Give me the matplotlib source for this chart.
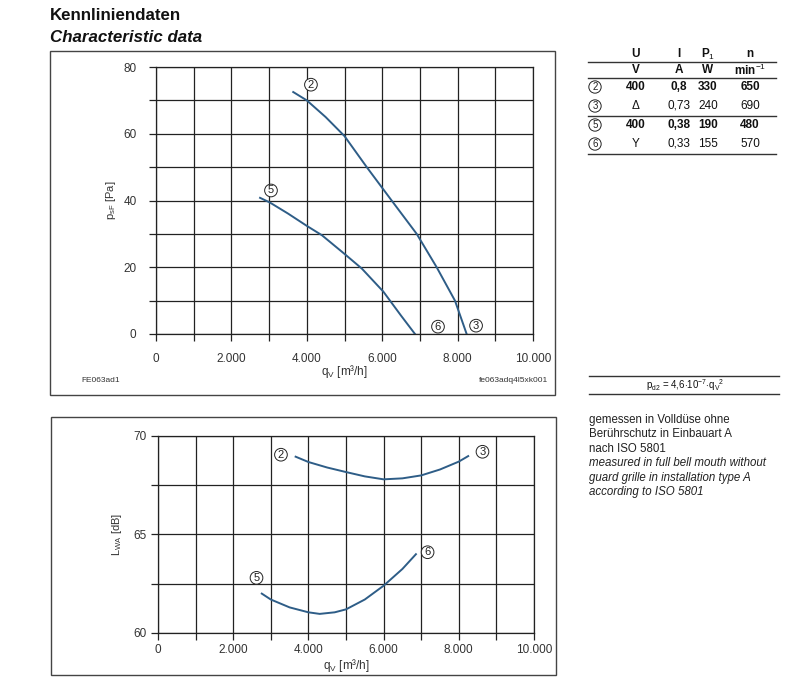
import matplotlib
matplotlib.use("Agg")
import matplotlib.pyplot as plt
from matplotlib.patches import Rectangle
from matplotlib.lines import Line2D

plt.rcParams['font.family'] = ['Liberation Sans', 'DejaVu Sans']
plt.rcParams['mathtext.fontset'] = 'custom'
plt.rcParams['mathtext.rm'] = 'Liberation Sans'
plt.rcParams['mathtext.it'] = 'Liberation Sans:italic'
plt.rcParams['mathtext.bf'] = 'Liberation Sans:bold'

W, H = 794, 689
CURVE = '#2e5d87'
GRID = '#222222'

# pressure curves, q_V [m3/h] vs p_sF [Pa]
q_p2 = [3640, 4000, 4500, 5000, 5590, 6250, 6915, 7445, 7930, 8240]
p_p2 = [72.5, 70.0, 65.0, 59.3, 50.0, 40.0, 30.0, 20.0, 10.0, 0.0]
q_p5 = [2760, 3020, 3500, 4000, 4400, 5000, 5460, 6030, 6500, 6870]
p_p5 = [40.8, 39.4, 36.1, 32.4, 29.6, 24.0, 19.6, 12.7, 5.5, 0.0]

# sound power curves, q_V vs L_WA [dB]
q_l2 = [3660, 4000, 4500, 5000, 5500, 6000, 6500, 7000, 7500, 8000, 8250]
l_l2 = [68.95, 68.68, 68.4, 68.17, 67.95, 67.8, 67.85, 68.0, 68.3, 68.7, 68.98]
q_l5 = [2760, 3000, 3500, 4000, 4300, 4700, 5000, 5500, 6000, 6500, 6860]
l_l5 = [62.0, 61.7, 61.3, 61.05, 60.97, 61.05, 61.2, 61.7, 62.4, 63.25, 64.0]

x_ticklabels = ['0', '2.000', '4.000', '6.000', '8.000', '10.000']

# table
tab_cols = ['U', 'I', 'P$_1$', 'n']
tab_units = ['V', 'A', 'W', 'min$^{-1}$']
tab_ids = ['2', '3', '5', '6']
tab_rows = [['400', '0,8', '330', '650'],
            ['\u0394', '0,73', '240', '690'],
            ['400', '0,38', '190', '480'],
            ['Y', '0,33', '155', '570']]
tab_bold = [True, False, True, False]

notes = ['gemessen in Volld\u00fcse ohne',
         'Ber\u00fchrschutz in Einbauart A',
         'nach ISO 5801',
         'measured in full bell mouth without',
         'guard grille in installation type A',
         'according to ISO 5801']


def fx(x):
    return x / W


def fy(y):
    return 1 - y / H


def circ(ax, x, y, s, fs=8, transform=None):
    kw = dict(ha='center', va='center', fontsize=fs, color='#222222',
              bbox=dict(boxstyle='circle,pad=0.12', fc='white', ec='#222222', lw=0.7))
    if transform is None:
        ax.text(x, y, s, **kw)
    else:
        ax.text(x, y, s, transform=transform, **kw)


def style_axes(ax, xpad, ypad):
    ax.set_xlim(0, 10000)
    ax.set_xticks(range(0, 10001, 1000))
    ax.set_xticklabels([x_ticklabels[i // 2] if i % 2 == 0 else '' for i in range(11)])
    ax.grid(True, color=GRID, lw=0.9)
    for sp in ax.spines.values():
        sp.set_color(GRID)
        sp.set_linewidth(0.9)
    ax.tick_params(direction='out', length=5, width=0.9, color=GRID,
                   labelsize=8.5, labelcolor='#333333')
    ax.tick_params(axis='x', pad=xpad)
    ax.tick_params(axis='y', pad=ypad)
    ax.set_axisbelow(True)


fig = plt.figure(figsize=(W / 100, H / 100), dpi=100)

fig.text(fx(50), fy(16), 'Kennliniendaten', fontsize=12.2, fontweight='bold',
         va='center', color='#111111')
fig.text(fx(50), fy(37), 'Characteristic data', fontsize=12.2, fontweight='bold',
         style='italic', va='center', color='#111111')

# frames
fig.add_artist(Rectangle((fx(50), fy(395)), fx(505), 344 / H, transform=fig.transFigure,
                         fill=False, ec='#444444', lw=1.0))
fig.add_artist(Rectangle((fx(51), fy(675)), fx(505), 258 / H, transform=fig.transFigure,
                         fill=False, ec='#444444', lw=1.0))

# top chart
ax1 = fig.add_axes([fx(156), fy(334), fx(377), 267 / H])
ax1.plot(q_p2, p_p2, color=CURVE, lw=1.4)
ax1.plot(q_p5, p_p5, color=CURVE, lw=1.4)
style_axes(ax1, 9, 9)
ax1.set_ylim(0, 80)
ax1.set_yticks(range(0, 81, 10))
ax1.set_yticklabels([str(v) if v % 20 == 0 else '' for v in range(0, 81, 10)])
ax1.set_ylabel('p$_{\\mathrm{sF}}$ [Pa]', fontsize=8, color='#333333')
ax1.yaxis.set_label_coords(-0.10, 0.5)
ax1.set_xlabel('q$_{\\mathrm{V}}$ [m\u00b3/h]', fontsize=8.5, color='#333333')
ax1.xaxis.set_label_coords(0.5, -0.11)
circ(ax1, 4110, 74.7, '2')
circ(ax1, 3050, 43.0, '5')
circ(ax1, 7480, 2.2, '6')
circ(ax1, 8490, 2.5, '3')

fig.text(fx(81), fy(381), 'FE063ad1', fontsize=6, color='#333333', va='center')
fig.text(fx(548), fy(381), 'fe063adq4l5xk001', fontsize=6, color='#333333',
         va='center', ha='right')

# bottom chart
ax2 = fig.add_axes([fx(158), fy(633), fx(376), 197 / H])
ax2.plot(q_l2, l_l2, color=CURVE, lw=1.4)
ax2.plot(q_l5, l_l5, color=CURVE, lw=1.4)
style_axes(ax2, 3, 3)
ax2.set_ylim(60, 70)
ax2.set_yticks([60, 62.5, 65, 67.5, 70])
ax2.set_yticklabels(['60', '', '65', '', '70'])
ax2.set_ylabel('L$_{\\mathrm{WA}}$ [dB]', fontsize=8, color='#333333')
ax2.yaxis.set_label_coords(-0.09, 0.5)
ax2.set_xlabel('q$_{\\mathrm{V}}$ [m\u00b3/h]', fontsize=8.5, color='#333333')
ax2.xaxis.set_label_coords(0.5, -0.12)
circ(ax2, 3270, 69.05, '2')
circ(ax2, 8630, 69.2, '3')
circ(ax2, 2620, 62.8, '5')
circ(ax2, 7170, 64.1, '6')

# table on the right
col_x = [636, 679, 708, 750]
for cx, c, u in zip(col_x, tab_cols, tab_units):
    fig.text(fx(cx), fy(54), c, fontsize=8.5, fontweight='bold', ha='center', va='center',
             color='#111111')
    fig.text(fx(cx), fy(70), u, fontsize=8.5, fontweight='bold', ha='center', va='center',
             color='#111111')
row_y = [87, 106, 125, 144]
for ry, ident, row, b in zip(row_y, tab_ids, tab_rows, tab_bold):
    circ(fig, fx(595), fy(ry), ident, fs=7, transform=fig.transFigure)
    for cx, val in zip(col_x, row):
        fig.text(fx(cx), fy(ry), val, fontsize=8.5, fontweight='bold' if b else 'normal',
                 ha='center', va='center', color='#111111')
for ly in [62, 78, 116, 154]:
    fig.add_artist(Line2D([fx(588), fx(776)], [fy(ly), fy(ly)], transform=fig.transFigure,
                          color='#333333', lw=1.0))

# formula
for ly in [376, 394]:
    fig.add_artist(Line2D([fx(589), fx(779)], [fy(ly), fy(ly)], transform=fig.transFigure,
                          color='#333333', lw=1.0))
fig.text(fx(685), fy(385), 'p$_{\\mathrm{d2}}$ = 4,6$\\cdot$10$^{-7}$$\\cdot$q$_{\\mathrm{V}}$$^2$',
         fontsize=7, ha='center', va='center', color='#111111')

for i, line in enumerate(notes):
    fig.text(fx(589), fy(420 + i * 14.4), line, fontsize=8.3, va='center',
             style='italic' if i >= 3 else 'normal', color='#222222')

fig.savefig('out.png', dpi=100)
